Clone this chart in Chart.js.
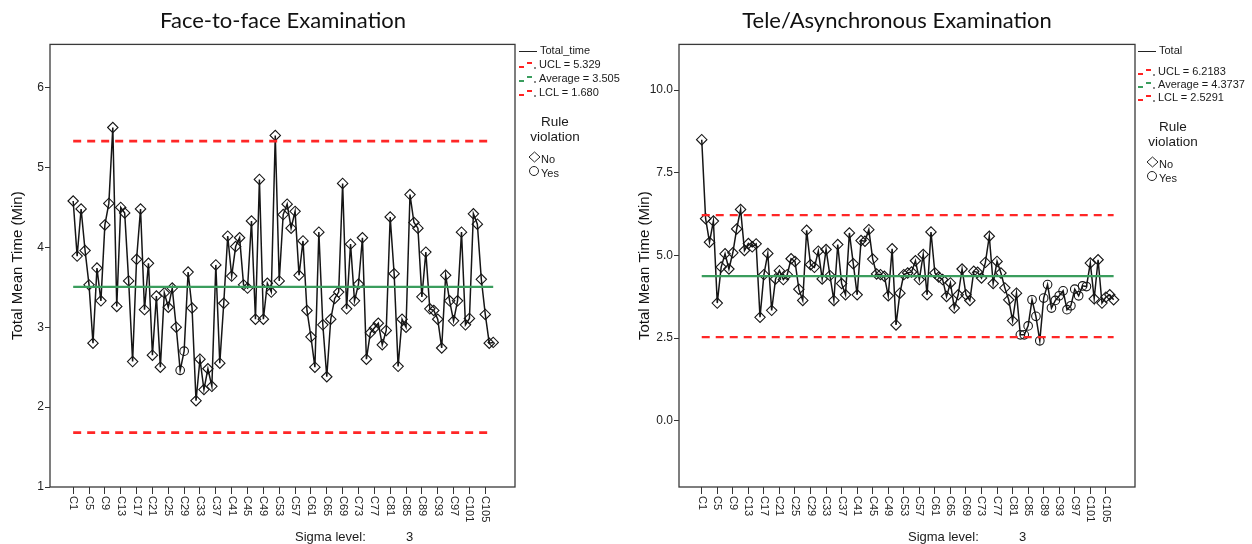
<!DOCTYPE html>
<html>
<head>
<meta charset="utf-8">
<script src="https://cdn.jsdelivr.net/npm/chart.js@4.4.1/dist/chart.umd.min.js"></script>
<style>
  body { margin: 0; width: 1252px; height: 544px; background: #fff; position: relative; overflow: hidden;
         font-family: "Liberation Sans", Arial, sans-serif; color: #1a1a1a; }
  .box { position: absolute; top: 0; height: 544px; }
  .t { position: absolute; white-space: nowrap; font-size: 11px; line-height: 14px; }
  .big { font-size: 13px; line-height: 15px; text-align: center; }
  .ln { display: inline-block; width: 18px; height: 0; border-top: 1.5px solid #222; vertical-align: middle; margin-right: 3px; }
  .dsh { display: inline-block; width: 20px; height: 8px; position: relative; vertical-align: middle; }
  .dsh i { position: absolute; height: 2px; width: 5px; }
  .dsh i:nth-child(1) { left: 0; top: 5px; }
  .dsh i:nth-child(2) { left: 8px; top: 1px; }
  .dsh i:nth-child(3) { left: 15px; top: 6px; width: 2px; background: #888 !important; }
</style>
</head>
<body>
<div class="box" style="left:0;width:566px"><canvas id="faceChart"></canvas></div>
<div class="box" style="left:630px;width:534px"><canvas id="teleChart"></canvas></div>

<!-- legend, face-to-face -->
<div class="t" style="left:519px;top:43px"><span class="ln"></span>Total_time</div>
<div class="t" style="left:519px;top:57px"><span class="dsh"><i style="background:#f22"></i><i style="background:#f22"></i><i></i></span>UCL = 5.329</div>
<div class="t" style="left:519px;top:71px"><span class="dsh"><i style="background:#3a9d5d"></i><i style="background:#3a9d5d"></i><i></i></span>Average = 3.505</div>
<div class="t" style="left:519px;top:85px"><span class="dsh"><i style="background:#f22"></i><i style="background:#f22"></i><i></i></span>LCL = 1.680</div>
<div class="t big" style="left:520px;top:114px;width:70px;font-size:13.5px">Rule<br>violation</div>
<div class="t" style="left:528px;top:151px"><svg width="13" height="12"><polygon points="6.5,1 12,6 6.5,11 1,6" fill="none" stroke="#222"/></svg>No</div>
<div class="t" style="left:528px;top:165px"><svg width="13" height="12"><circle cx="6" cy="6" r="4.5" fill="none" stroke="#222"/></svg>Yes</div>
<div class="t big" style="left:295px;top:529px">Sigma level:</div>
<div class="t big" style="left:406px;top:529px">3</div>

<!-- legend, tele -->
<div class="t" style="left:1138px;top:43px"><span class="ln"></span>Total</div>
<div class="t" style="left:1138px;top:64px"><span class="dsh"><i style="background:#f22"></i><i style="background:#f22"></i><i></i></span>UCL = 6.2183</div>
<div class="t" style="left:1138px;top:77px"><span class="dsh"><i style="background:#3a9d5d"></i><i style="background:#3a9d5d"></i><i></i></span>Average = 4.3737</div>
<div class="t" style="left:1138px;top:90px"><span class="dsh"><i style="background:#f22"></i><i style="background:#f22"></i><i></i></span>LCL = 2.5291</div>
<div class="t big" style="left:1138px;top:119px;width:70px;font-size:13.5px">Rule<br>violation</div>
<div class="t" style="left:1146px;top:156px"><svg width="13" height="12"><polygon points="6.5,1 12,6 6.5,11 1,6" fill="none" stroke="#222"/></svg>No</div>
<div class="t" style="left:1146px;top:170px"><svg width="13" height="12"><circle cx="6" cy="6" r="4.5" fill="none" stroke="#222"/></svg>Yes</div>
<div class="t big" style="left:908px;top:529px">Sigma level:</div>
<div class="t big" style="left:1019px;top:529px">3</div>

<script>
// case numbers shown on the x axis
const caseTicks = [1, 5, 9, 13, 17, 21, 25, 29, 33, 37, 41, 45, 49, 53, 57, 61, 65, 69, 73, 77, 81, 85, 89, 93, 97, 101, 105];

// face-to-face: total mean time per case (min)
const faceTime = [
  4.58, 3.89, 4.48, 3.96, 3.53, 2.80, 3.74, 3.33, 4.28, 4.55,
  5.50, 3.26, 4.50, 4.43, 3.58, 2.57, 3.85, 4.48, 3.22, 3.80,
  2.65, 3.39, 2.50, 3.43, 3.25, 3.49, 3.00, 2.46, 2.70, 3.69,
  3.24, 2.08, 2.60, 2.22, 2.48, 2.26, 3.78, 2.55, 3.30, 4.14,
  3.64, 4.01, 4.12, 3.53, 3.49, 4.33, 3.10, 4.85, 3.10, 3.55,
  3.44, 5.40, 3.58, 4.41, 4.54, 4.24, 4.45, 3.65, 4.08, 3.21,
  2.88, 2.50, 4.19, 3.03, 2.38, 3.10, 3.36, 3.44, 4.80, 3.23,
  4.04, 3.33, 3.54, 4.12, 2.60, 2.93, 2.99, 3.05, 2.78, 2.96,
  4.38, 3.67, 2.51, 3.10, 3.00, 4.66, 4.31, 4.24, 3.38, 3.94,
  3.23, 3.21, 3.10, 2.74, 3.65, 3.33, 3.08, 3.33, 4.19, 3.03,
  3.11, 4.42, 4.29, 3.60, 3.16, 2.80, 2.81
];
const faceViolations = [28, 29];
const faceLimits = [5.329, 3.505, 1.680]; // UCL, average, LCL
const faceYTicks = [1, 2, 3, 4, 5, 6];

// tele/asynchronous
const teleTime = [
  8.50, 6.11, 5.40, 6.04, 3.56, 4.65, 5.05, 4.59, 5.08, 5.80,
  6.39, 5.15, 5.36, 5.26, 5.35, 3.13, 4.42, 5.06, 3.34, 4.29,
  4.54, 4.27, 4.42, 4.90, 4.82, 3.98, 3.64, 5.76, 4.72, 4.64,
  5.13, 4.29, 5.18, 4.39, 3.64, 5.33, 4.15, 3.81, 5.68, 4.75,
  3.81, 5.45, 5.43, 5.78, 4.89, 4.44, 4.42, 4.37, 3.78, 5.20,
  2.90, 3.86, 4.42, 4.47, 4.50, 4.84, 4.27, 5.03, 3.81, 5.71,
  4.47, 4.35, 4.27, 3.76, 4.17, 3.41, 3.81, 4.59, 3.81, 3.64,
  4.52, 4.49, 4.32, 4.79, 5.58, 4.15, 4.82, 4.47, 4.02, 3.66,
  3.03, 3.86, 2.60, 2.60, 2.87, 3.66, 3.16, 2.42, 3.71, 4.12,
  3.41, 3.64, 3.78, 3.93, 3.36, 3.48, 3.98, 3.78, 4.08, 4.06,
  4.77, 3.69, 4.87, 3.56, 3.74, 3.81, 3.66
];
const teleViolations = [83, 84, 85, 86, 87, 88, 89, 90, 91, 92, 93, 94, 95, 96, 97, 98, 99, 100];
const teleLimits = [6.2183, 4.3737, 2.5291];
const teleYTicks = [0, 2.5, 5, 7.5, 10];

const RED = "#ff2626";
const GREEN = "#3a9d5d";
const FONT = '"Liberation Sans", Arial, sans-serif';

// frame round the plot + x labels turned clockwise like the original
const framePlugin = {
  id: "frame",
  afterDraw(chart) {
    const { ctx, chartArea: a } = chart;
    const xs = chart.scales.x;
    ctx.save();
    ctx.strokeStyle = "#3a3a3a";
    ctx.lineWidth = 1.3;
    ctx.strokeRect(a.left, a.top, a.right - a.left, a.bottom - a.top);
    ctx.fillStyle = "#222";
    ctx.font = "11px " + FONT;
    ctx.textAlign = "left";
    ctx.textBaseline = "middle";
    xs.ticks.forEach((t) => {
      ctx.save();
      ctx.translate(xs.getPixelForValue(t.value), a.bottom + 9);
      ctx.rotate(Math.PI / 2);
      ctx.fillText("C" + t.value, 0, 0);
      ctx.restore();
    });
    ctx.restore();
  },
};

function limitLine(y, color, dash, width) {
  return {
    data: [{ x: 1, y: y }, { x: 107, y: y }],
    borderColor: color,
    borderDash: dash,
    borderWidth: width,
    pointRadius: 0,
  };
}

function controlChart(id, cfg) {
  const series = cfg.values.map((v, i) => ({ x: i + 1, y: v }));
  const isViol = (i) => cfg.violations.includes(i + 1);
  new Chart(document.getElementById(id), {
    type: "line",
    data: {
      datasets: [
        limitLine(cfg.limits[0], RED, [8, 6], cfg.dashWidth),
        limitLine(cfg.limits[1], GREEN, [], 2.2),
        limitLine(cfg.limits[2], RED, [8, 6], cfg.dashWidth),
        {
          data: series,
          borderColor: "#151515",
          borderWidth: 1.5,
          tension: 0,
          pointStyle: cfg.values.map((v, i) => (isViol(i) ? "circle" : "rectRot")),
          pointRadius: cfg.values.map((v, i) => (isViol(i) ? 4.3 : 5.2)),
          pointBackgroundColor: "rgba(255,255,255,0)",
          pointBorderColor: "#151515",
          pointBorderWidth: 1.1,
        },
      ],
    },
    options: {
      responsive: true,
      maintainAspectRatio: false,
      animation: false,
      layout: { padding: 0 },
      plugins: {
        legend: { display: false },
        tooltip: { enabled: false },
        title: {
          display: true,
          text: cfg.title,
          color: "#111",
          font: { family: "Lato, 'Open Sans', sans-serif", size: 22, weight: "normal" },
          padding: { top: 8, bottom: 10 },
        },
      },
      scales: {
        x: {
          type: "linear",
          min: -4.85,
          max: 112.5,
          afterBuildTicks: (s) => { s.ticks = caseTicks.map((v) => ({ value: v })); },
          afterFit: (s) => { s.height = 57; },
          grid: { drawOnChartArea: false, color: "#333", tickLength: 7 },
          border: { display: false },
          ticks: { color: "rgba(0,0,0,0)", autoSkip: false, maxRotation: 0, font: { size: 11 } },
        },
        y: {
          min: cfg.yMin,
          max: cfg.yMax,
          afterBuildTicks: (s) => { s.ticks = cfg.yTicks.map((v) => ({ value: v })); },
          afterFit: (s) => { s.width = cfg.yWidth; },
          grid: { drawOnChartArea: false, color: "#333", tickLength: 5 },
          border: { display: false },
          ticks: {
            color: "#222",
            padding: 1,
            font: { family: FONT, size: 12 },
            callback: (v) => cfg.fmt(v),
          },
          title: {
            display: true,
            text: "Total Mean Time (Min)",
            color: "#111",
            font: { family: FONT, size: 15 },
            padding: { top: cfg.titlePad, bottom: 0 },
          },
        },
        yRight: {
          position: "right",
          grid: { display: false },
          border: { display: false },
          ticks: { display: false },
          afterFit: (s) => { s.width = cfg.rightGap; },
        },
      },
    },
    plugins: [framePlugin],
  });
}

controlChart("faceChart", {
  title: "Face-to-face Examination",
  values: faceTime,
  violations: faceViolations,
  limits: faceLimits,
  yTicks: faceYTicks,
  yMin: 1,
  yMax: 6.54,
  yWidth: 50,
  rightGap: 51,
  titlePad: 9,
  dashWidth: 2.6,
  fmt: (v) => String(v),
});

controlChart("teleChart", {
  title: "Tele/Asynchronous Examination",
  values: teleTime,
  violations: teleViolations,
  limits: teleLimits,
  yTicks: teleYTicks,
  yMin: -2.0,
  yMax: 11.38,
  yWidth: 49,
  rightGap: 29,
  titlePad: 6,
  dashWidth: 2.2,
  fmt: (v) => v.toFixed(1),
});
</script>
</body>
</html>
